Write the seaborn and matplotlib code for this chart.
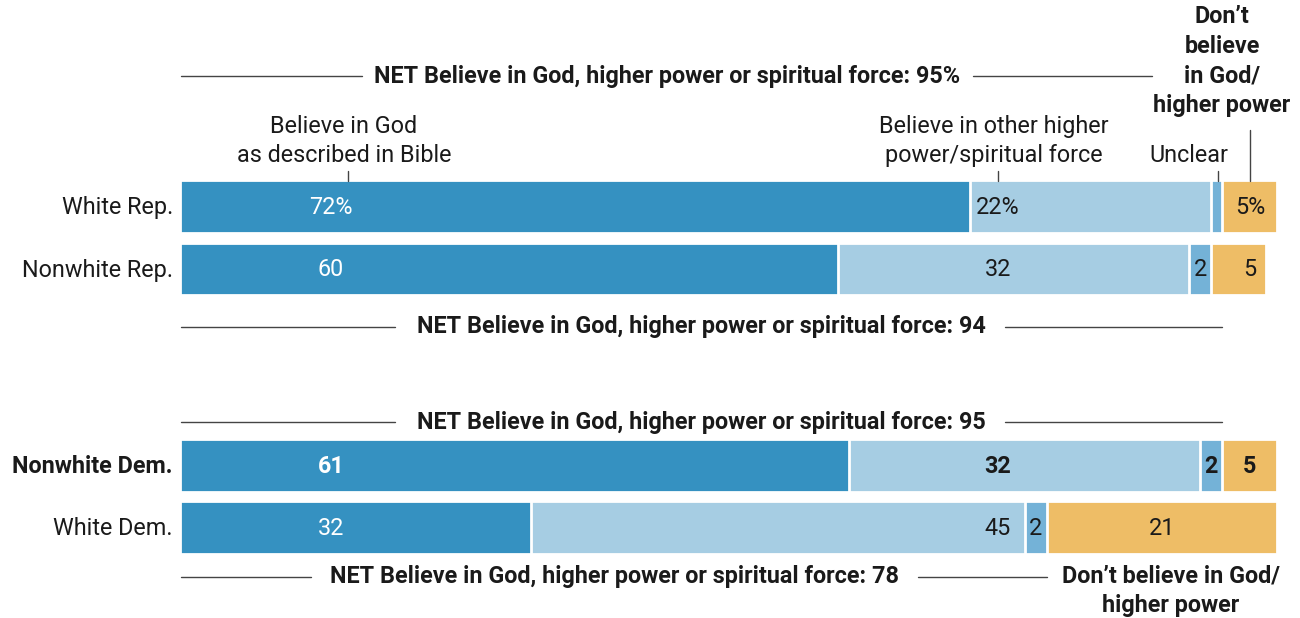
import pandas as pd
import seaborn as sns
from matplotlib import pyplot as plt

# 数据
groups = ['White Rep.', 'Nonwhite Rep.', 'Nonwhite Dem.', 'White Dem.']
bible_god = [72, 60, 61, 32]
other_power = [22, 32, 32, 45]
unclear = [1, 2, 2, 2]
dont_believe = [5, 5, 5, 21]
net_believe = ['95%', '94', '95', '78']
bible_labels = ['72%', '60', '61', '32']
other_labels = ['22%', '32', '32', '45']
unclear_labels = ['', '2', '2', '2']
dont_labels = ['5%', '5', '5', '21']
bold_group = 'Nonwhite Dem.'

# bar centres, in pixels from the top of the figure
row_y = [206.5, 269, 465.5, 527.5]

DARK = '#3591c1'
LIGHT = '#a6cde3'
MID = '#74b2d7'
GOLD = '#eebd66'
INK = '#1a1a1a'
RULE = '#444444'

sns.set_style('white')
plt.rcParams['font.family'] = ['Roboto', 'DejaVu Sans']

W, H = 1300, 618
X0, PX = 180, 10.97   # pixel of 0%, pixels per percent


def pct(px):
    return (px - X0) / PX


fig = plt.figure(figsize=(W / 100, H / 100), dpi=100)
ax = fig.add_axes([0, 0, 1, 1])

df = pd.DataFrame({'group': groups, 'y': row_y, 'bible': bible_god,
                   'other': other_power, 'unclear': unclear, 'dont': dont_believe})
df['c1'] = df['bible']
df['c2'] = df['c1'] + df['other']
df['c3'] = df['c2'] + df['unclear']
df['c4'] = df['c3'] + df['dont']

# 堆叠条形图: draw cumulative totals, longest first
for col, color in [('c4', GOLD), ('c3', MID), ('c2', LIGHT), ('c1', DARK)]:
    sns.barplot(data=df, x=col, y='y', orient='h', native_scale=True, width=0.85,
                color=color, saturation=1, edgecolor='white', linewidth=2, ax=ax)

ax.set_xlim(pct(0), pct(W))
ax.set_ylim(H, 0)
ax.axis('off')

fs = 16.8
fsb = 16.8
for i, row in df.iterrows():
    wt = 'bold' if row['group'] == bold_group else 'normal'
    y = row['y'] + 1
    ax.text(pct(173), y, row['group'], ha='right', va='center', fontsize=fs, color=INK, weight=wt)
    ax.text(pct(331), y, bible_labels[i], ha='center', va='center', fontsize=fs, color='white', weight=wt)
    ax.text(pct(998), y, other_labels[i], ha='center', va='center', fontsize=fs, color=INK, weight=wt)
    if unclear_labels[i]:
        ax.text(row['c2'] + row['unclear'] / 2, y, unclear_labels[i], ha='center', va='center',
                fontsize=fs, color=INK, weight=wt)
    gx = row['c3'] + row['dont'] / 2
    if row['dont'] < 10:
        gx = pct(1250)
    ax.text(gx, y, dont_labels[i], ha='center', va='center', fontsize=fs, color=INK, weight=wt)


def net_bracket(y, left_end, text_x, right_start, right_end, value):
    ax.plot([pct(181), pct(left_end)], [y, y], color=RULE, lw=1)
    ax.plot([pct(right_start), pct(right_end)], [y, y], color=RULE, lw=1)
    ax.text(pct(text_x), y, 'NET Believe in God, higher power or spiritual force: ' + value,
            ha='center', va='center', fontsize=fsb, weight='bold', color=INK,
            bbox=dict(facecolor='white', edgecolor='none', pad=1))


net_bracket(76, 362, 667, 973, 1152, net_believe[0])
net_bracket(327, 395, 701, 1005, 1222, net_believe[1])
net_bracket(422, 395, 701, 1005, 1222, net_believe[2])
net_bracket(577, 311, 614, 918, 1047, net_believe[3])

# 列标题
ax.text(pct(344), 141, 'Believe in God\nas described in Bible', ha='center', va='center',
        fontsize=fs, color=INK, linespacing=1.35)
ax.text(pct(994), 141, 'Believe in other higher\npower/spiritual force', ha='center', va='center',
        fontsize=fs, color=INK, linespacing=1.35)
ax.text(pct(1189), 155, 'Unclear', ha='center', va='center', fontsize=fs, color=INK)
ax.text(pct(1222), 61, 'Don\u2019t\nbelieve\nin God/\nhigher power', ha='center', va='center',
        fontsize=fsb, color=INK, weight='bold', linespacing=1.37)
ax.text(pct(1171), 591, 'Don\u2019t believe in God/\nhigher power', ha='center', va='center',
        fontsize=fsb, color=INK, weight='bold', linespacing=1.35)

for tx, ty in [(348, 171), (998, 171), (1218, 171), (1250, 130)]:
    ax.plot([pct(tx), pct(tx)], [ty, 181], color=RULE, lw=1)

plt.savefig('out.png', dpi=100)
